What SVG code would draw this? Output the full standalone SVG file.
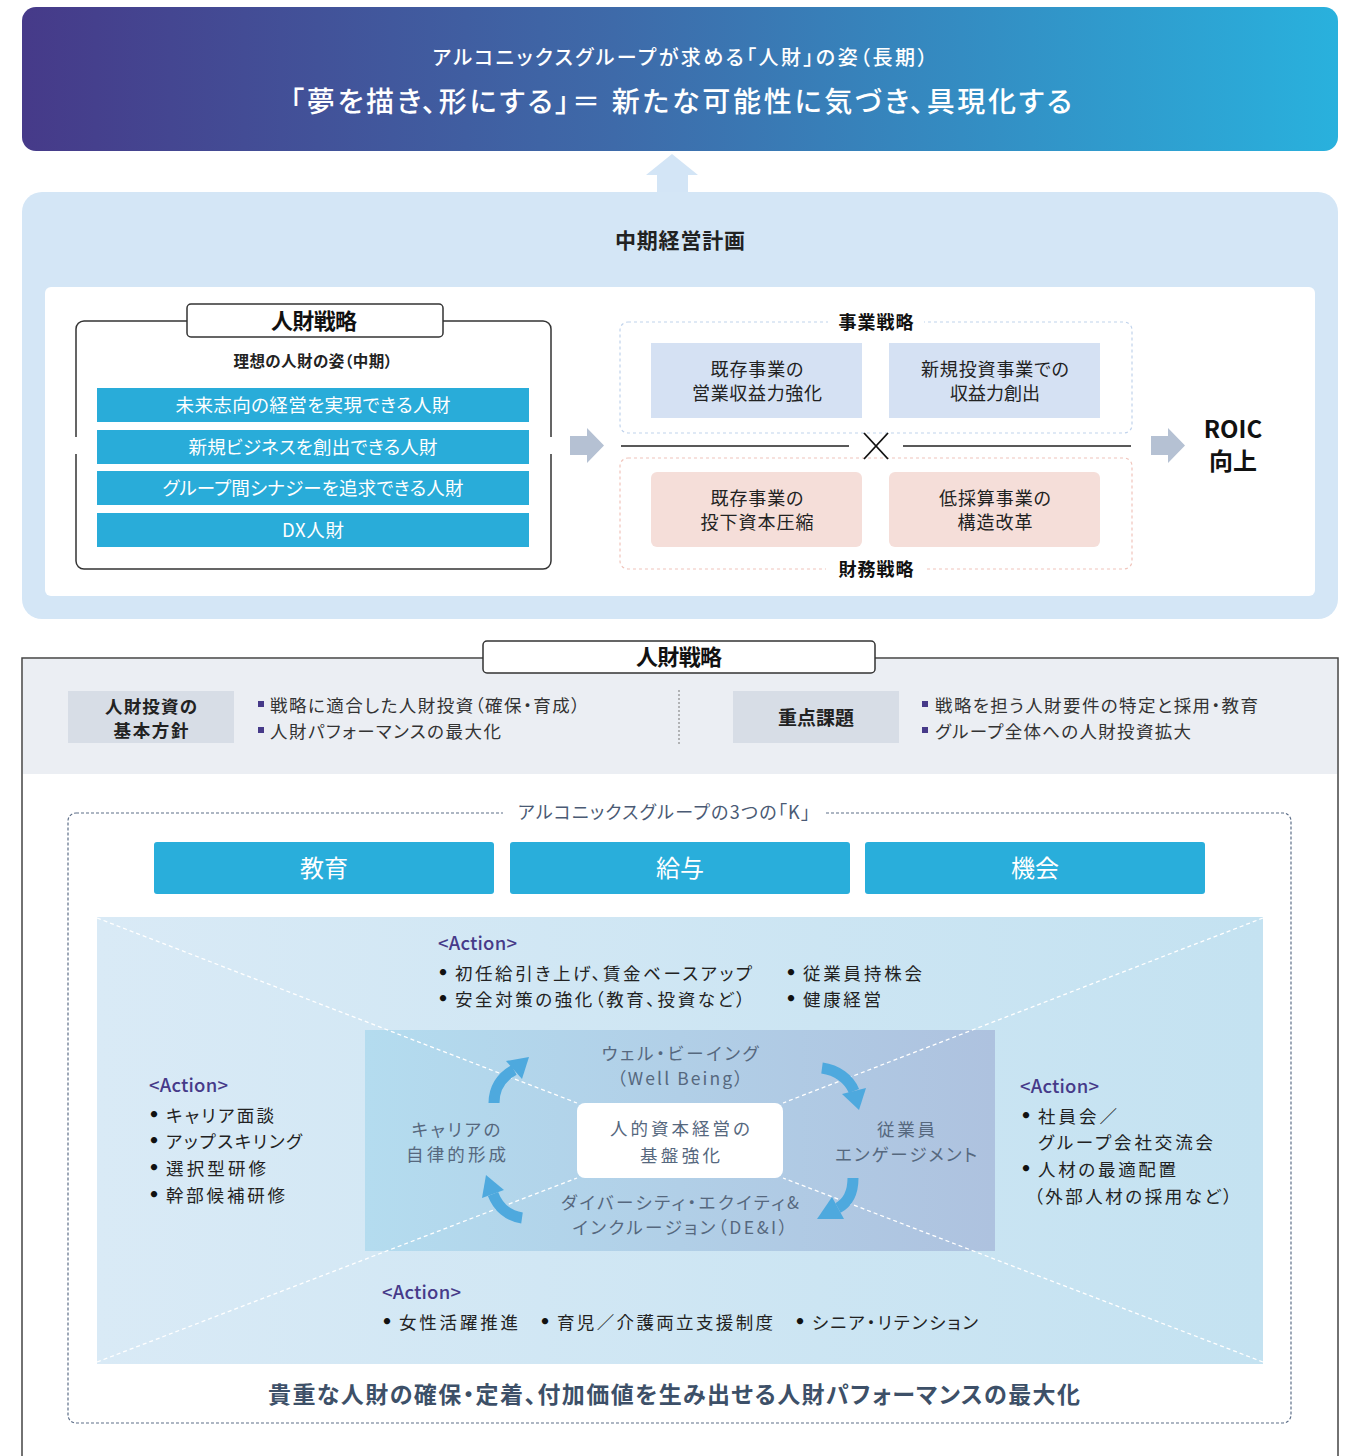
<svg xmlns="http://www.w3.org/2000/svg" width="1351" height="1456" viewBox="0 0 1351 1456">
<defs>
<linearGradient id="gBanner" x1="0" y1="0" x2="1" y2="0">
<stop offset="0" stop-color="#463a89"/>
<stop offset="0.45" stop-color="#3e6aa9"/>
<stop offset="1" stop-color="#29b1dd"/>
</linearGradient>
<linearGradient id="gLight" x1="0" y1="0" x2="1" y2="0">
<stop offset="0" stop-color="#d9eaf6"/>
<stop offset="1" stop-color="#c4e2f1"/>
</linearGradient>
<linearGradient id="gInner" x1="0" y1="0" x2="1" y2="0">
<stop offset="0" stop-color="#b4dcef"/>
<stop offset="1" stop-color="#aec2df"/>
</linearGradient>
<style>
text{font-family:"Noto Sans CJK JP","Noto Sans",sans-serif;font-feature-settings:"palt";}
.w{fill:#fff;}
.c{text-anchor:middle;}
.b{font-weight:700;}
.dk{fill:#222;}
.bar{fill:#29acd9;}
.bartx{fill:#fff;font-size:18.5px;text-anchor:middle;}
.biz{fill:#d5e1f3;}
.fin{fill:#f5ded9;}
.boxtx{fill:#222;font-size:18px;text-anchor:middle;}
.lbl{fill:#111;font-size:18px;font-weight:700;text-anchor:middle;}
.graybox{fill:#d7dde6;}
.bul{fill:#463a89;}
.bultx{fill:#333;font-size:17.5px;}
.kbox{fill:#29aedb;}
.ktx{fill:#fff;font-size:24px;text-anchor:middle;}
.act{fill:#463a89;font-size:18.5px;font-weight:500;}
.atx{fill:#222;font-size:17.5px;}
.dot{fill:#111;font-size:18px;font-weight:700;text-anchor:middle;font-family:"DejaVu Sans",sans-serif;}
.cyc{fill:#56687e;font-size:17.5px;text-anchor:middle;}
.carr{fill:none;stroke:#4ea9de;stroke-width:11;}
.chead{fill:#4ea9de;}
.gar{fill:#b5c1d3;}
.diag{stroke:#fff;stroke-width:1.3;stroke-dasharray:4 3;}
</style>
</defs>

<rect width="1351" height="1456" fill="#fff"/>

<g id="banner">
<rect x="22" y="7" width="1316" height="144" rx="14" fill="url(#gBanner)"/>
<text x="680" y="65" class="w c" font-size="20" font-weight="500" textLength="495">アルコニックスグループが求める「人財」の姿（長期）</text>
<text x="681" y="112" class="w c" font-size="28" font-weight="500" textLength="782">「夢を描き、形にする」＝ 新たな可能性に気づき、具現化する</text>
</g>

<g id="midplan">
<rect x="22" y="192" width="1316" height="427" rx="20" fill="#d4e6f6"/>
<text x="680" y="248" class="c dk" font-size="21" font-weight="700" textLength="130">中期経営計画</text>
<rect x="45" y="287" width="1270" height="309" rx="6" fill="#fff"/>
</g>

<g id="hr-strategy-top">
<rect x="76" y="321" width="475" height="248" rx="8" fill="none" stroke="#333" stroke-width="1.5"/>
<rect x="74" y="437" width="5" height="17" fill="#fff"/>
<rect x="548" y="437" width="5" height="17" fill="#fff"/>
<rect x="187" y="304" width="256" height="33" rx="4" fill="#fff" stroke="#333" stroke-width="1.5"/>
<text x="314" y="329" class="c b" font-size="22" fill="#111" textLength="86">人財戦略</text>
<text x="313" y="367" class="c dk" font-size="15.5" font-weight="700" textLength="159">理想の人財の姿（中期）</text>
<rect x="97" y="388" width="432" height="34" class="bar"/>
<text x="313" y="412" class="bartx" textLength="275">未来志向の経営を実現できる人財</text>
<rect x="97" y="430" width="432" height="34" class="bar"/>
<text x="313" y="454" class="bartx" textLength="249">新規ビジネスを創出できる人財</text>
<rect x="97" y="471" width="432" height="34" class="bar"/>
<text x="313" y="495" class="bartx" textLength="301">グループ間シナジーを追求できる人財</text>
<rect x="97" y="513" width="432" height="34" class="bar"/>
<text x="313" y="537" class="bartx" textLength="62">DX人財</text>
</g>

<g id="business-strategy">
<rect x="620" y="322" width="512" height="111" rx="8" fill="none" stroke="#c0d3ec" stroke-width="1.2" stroke-dasharray="3 3"/>
<rect x="828" y="312" width="96" height="20" fill="#fff"/>
<text x="876" y="329" class="lbl" textLength="75">事業戦略</text>
<rect x="651" y="343" width="211" height="75" class="biz"/>
<text x="757" y="376" class="boxtx" textLength="93">既存事業の</text>
<text x="757" y="400" class="boxtx" textLength="130">営業収益力強化</text>
<rect x="889" y="343" width="211" height="75" class="biz"/>
<text x="995" y="376" class="boxtx" textLength="148">新規投資事業での</text>
<text x="995" y="400" class="boxtx" textLength="90">収益力創出</text>
</g>

<g id="financial-strategy">
<rect x="620" y="458" width="512" height="111" rx="8" fill="none" stroke="#f0c4bb" stroke-width="1.2" stroke-dasharray="3 3"/>
<rect x="826" y="559" width="100" height="20" fill="#fff"/>
<text x="876" y="576" class="lbl" textLength="75">財務戦略</text>
<rect x="651" y="472" width="211" height="75" rx="6" class="fin"/>
<text x="757" y="505" class="boxtx" textLength="93">既存事業の</text>
<text x="757" y="529" class="boxtx" textLength="113">投下資本圧縮</text>
<rect x="889" y="472" width="211" height="75" rx="6" class="fin"/>
<text x="995" y="505" class="boxtx" textLength="112">低採算事業の</text>
<text x="995" y="529" class="boxtx" textLength="75">構造改革</text>
</g>

<g id="roic">
<text x="1233" y="438" class="c" font-size="24" font-weight="700" fill="#111" font-family="Roboto,'Noto Sans CJK JP',sans-serif">ROIC</text>
<text x="1233" y="470" class="c b" font-size="24" fill="#111">向上</text>
</g>

<g id="hr-strategy-bottom">
<rect x="23" y="659" width="1314" height="115" fill="#ebeef3"/>
<path d="M22 1460 V658 H1338 V1460" fill="none" stroke="#444" stroke-width="1.5"/>
<rect x="483" y="641" width="392" height="32" rx="4" fill="#fff" stroke="#333" stroke-width="1.5"/>
<text x="679" y="665" class="c b" font-size="22" fill="#111" textLength="86">人財戦略</text>
<rect x="68" y="691" width="166" height="52" class="graybox"/>
<text x="151" y="713" class="c b dk" font-size="17.5" textLength="92">人財投資の</text>
<text x="151" y="737" class="c b dk" font-size="17.5" textLength="75">基本方針</text>
<rect x="258" y="701" width="6" height="6" class="bul"/>
<text x="270" y="712" class="bultx" textLength="310">戦略に適合した人財投資（確保・育成）</text>
<rect x="258" y="727" width="6" height="6" class="bul"/>
<text x="270" y="738" class="bultx" textLength="231">人財パフォーマンスの最大化</text>
<line x1="679" y1="690" x2="679" y2="745" stroke="#777" stroke-width="1" stroke-dasharray="2 2"/>
<rect x="733" y="691" width="166" height="52" class="graybox"/>
<text x="816" y="725" class="c b dk" font-size="19" textLength="76">重点課題</text>
<rect x="922" y="701" width="6" height="6" class="bul"/>
<text x="935" y="712" class="bultx" textLength="323">戦略を担う人財要件の特定と採用・教育</text>
<rect x="922" y="727" width="6" height="6" class="bul"/>
<text x="935" y="738" class="bultx" textLength="256">グループ全体への人財投資拡大</text>
</g>

<g id="three-k">
<rect x="68" y="813" width="1223" height="610" rx="8" fill="none" stroke="#5d6e88" stroke-width="1.2" stroke-dasharray="3 2"/>
<rect x="503" y="800" width="322" height="26" fill="#fff"/>
<text x="664" y="819" class="c" font-size="18" fill="#4a5a74" textLength="292">アルコニックスグループの3つの「K」</text>
<rect x="154" y="842" width="340" height="52" rx="3" class="kbox"/>
<text x="324" y="877" class="ktx">教育</text>
<rect x="510" y="842" width="340" height="52" rx="3" class="kbox"/>
<text x="680" y="877" class="ktx">給与</text>
<rect x="865" y="842" width="340" height="52" rx="3" class="kbox"/>
<text x="1035" y="877" class="ktx">機会</text>
</g>

<g id="action-area">
<rect x="97" y="917" width="1166" height="447" fill="url(#gLight)"/>
<rect x="365" y="1030" width="630" height="221" fill="url(#gInner)"/>
</g>

<g id="connectors">
<path d="M657 192 V175 H646 L672 154 L698 175 H688 V192 Z" fill="#d3e5f6"/>
<path d="M570 436 H587 V428 L604 445.5 L587 463 V455 H570 Z" class="gar"/>
<path d="M1151 436 H1168 V428 L1185 445.5 L1168 463 V455 H1151 Z" class="gar"/>
<line x1="621" y1="446" x2="849" y2="446" stroke="#222" stroke-width="1.5"/>
<line x1="903" y1="446" x2="1131" y2="446" stroke="#222" stroke-width="1.5"/>
<line x1="864" y1="433" x2="888" y2="459" stroke="#111" stroke-width="1.8"/>
<line x1="888" y1="433" x2="864" y2="459" stroke="#111" stroke-width="1.8"/>
<line x1="97" y1="918" x2="577" y2="1103" class="diag"/>
<line x1="97" y1="1362" x2="577" y2="1178" class="diag"/>
<line x1="1263" y1="918" x2="783" y2="1103" class="diag"/>
<line x1="1263" y1="1362" x2="783" y2="1178" class="diag"/>
<path d="M494 1103 C494 1089 501 1077 514 1070" class="carr"/>
<polygon points="529,1057 506,1061 522,1079" class="chead"/>
<path d="M822 1068 C837 1070 849 1079 854 1091" class="carr"/>
<polygon points="859,1110 842,1094 866,1088" class="chead"/>
<path d="M853 1178 C853 1192 849 1202 838 1208" class="carr"/>
<polygon points="817,1219 832,1197 844,1219" class="chead"/>
<path d="M522 1218 C508 1216 498 1207 493 1194" class="carr"/>
<polygon points="486,1175 504,1190 482,1198" class="chead"/>
</g>

<g id="core">
<rect x="577" y="1103" width="206" height="75" rx="8" fill="#fff"/>
<text x="680" y="1135" class="cyc" font-size="19" textLength="140">人的資本経営の</text>
<text x="680" y="1162" class="cyc" font-size="19" textLength="80">基盤強化</text>
</g>

<g id="wellbeing">
<text x="680" y="1060" class="cyc" textLength="157">ウェル・ビーイング</text>
<text x="680" y="1085" class="cyc" textLength="126">（Well Being）</text>
</g>
<g id="career">
<text x="456" y="1136" class="cyc" textLength="89">キャリアの</text>
<text x="456" y="1161" class="cyc" textLength="100">自律的形成</text>
</g>
<g id="engagement">
<text x="906" y="1136" class="cyc" textLength="58">従業員</text>
<text x="906" y="1161" class="cyc" textLength="142">エンゲージメント</text>
</g>
<g id="dei">
<text x="680" y="1209" class="cyc" textLength="238">ダイバーシティ・エクイティ&amp;</text>
<text x="680" y="1234" class="cyc" textLength="215">インクルージョン（DE&amp;I）</text>
</g>

<g id="action-top">
<text x="438" y="950" class="act" textLength="79">&lt;Action&gt;</text>
<text x="443" y="979" class="dot">•</text>
<text x="455" y="980" class="atx" textLength="297">初任給引き上げ、賃金ベースアップ</text>
<text x="443" y="1005" class="dot">•</text>
<text x="455" y="1006" class="atx" textLength="290">安全対策の強化（教育、投資など）</text>
<text x="791" y="979" class="dot">•</text>
<text x="803" y="980" class="atx" textLength="119">従業員持株会</text>
<text x="791" y="1005" class="dot">•</text>
<text x="803" y="1006" class="atx" textLength="78">健康経営</text>
</g>
<g id="action-left">
<text x="149" y="1092" class="act" textLength="79">&lt;Action&gt;</text>
<text x="154" y="1121" class="dot">•</text>
<text x="166" y="1122" class="atx" textLength="108">キャリア面談</text>
<text x="154" y="1147" class="dot">•</text>
<text x="166" y="1148" class="atx" textLength="136">アップスキリング</text>
<text x="154" y="1174" class="dot">•</text>
<text x="166" y="1175" class="atx" textLength="100">選択型研修</text>
<text x="154" y="1201" class="dot">•</text>
<text x="166" y="1202" class="atx" textLength="119">幹部候補研修</text>
</g>
<g id="action-right">
<text x="1020" y="1093" class="act" textLength="79">&lt;Action&gt;</text>
<text x="1026" y="1122" class="dot">•</text>
<text x="1038" y="1123" class="atx" textLength="79">社員会／</text>
<text x="1038" y="1149" class="atx" textLength="175">グループ会社交流会</text>
<text x="1026" y="1175" class="dot">•</text>
<text x="1038" y="1176" class="atx" textLength="138">人材の最適配置</text>
<text x="1034" y="1203" class="atx" textLength="198">（外部人材の採用など）</text>
</g>
<g id="action-bottom">
<text x="382" y="1299" class="act" textLength="79">&lt;Action&gt;</text>
<text x="387" y="1328" class="dot">•</text>
<text x="399" y="1329" class="atx" textLength="119">女性活躍推進</text>
<text x="545" y="1328" class="dot">•</text>
<text x="557" y="1329" class="atx" textLength="216">育児／介護両立支援制度</text>
<text x="800" y="1328" class="dot">•</text>
<text x="812" y="1329" class="atx" textLength="166">シニア・リテンション</text>
</g>

<g id="conclusion">
<text x="674" y="1403" class="c" font-size="23" font-weight="700" fill="#3d5068" textLength="812">貴重な人財の確保・定着、付加価値を生み出せる人財パフォーマンスの最大化</text>
</g>
</svg>
